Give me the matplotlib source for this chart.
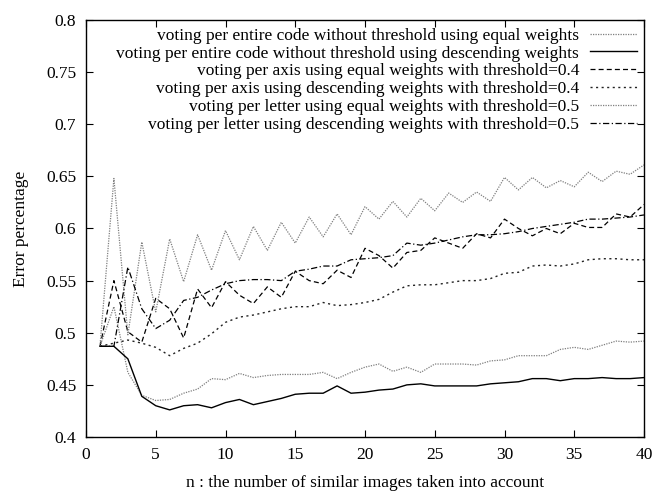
import matplotlib
matplotlib.use('Agg')
import matplotlib.pyplot as plt
from matplotlib.ticker import FuncFormatter, MultipleLocator
import numpy as np

plt.rcParams['font.family'] = ['Liberation Serif', 'DejaVu Serif']
plt.rcParams['font.size'] = 12.5

n = np.arange(1, 41)

# entire code, no threshold, equal weights
code_equal = [0.487, 0.525, 0.462, 0.440, 0.435, 0.436, 0.442, 0.446, 0.456, 0.455,
              0.461, 0.457, 0.459, 0.460, 0.460, 0.460, 0.462, 0.456, 0.462, 0.467,
              0.470, 0.463, 0.467, 0.462, 0.470, 0.470, 0.470, 0.469, 0.473, 0.474,
              0.478, 0.478, 0.478, 0.484, 0.486, 0.484, 0.488, 0.492, 0.491, 0.492]
# entire code, no threshold, descending weights
code_desc = [0.487, 0.487, 0.475, 0.439, 0.430, 0.426, 0.430, 0.431, 0.428, 0.433,
             0.436, 0.431, 0.434, 0.437, 0.441, 0.442, 0.442, 0.449, 0.442, 0.443,
             0.445, 0.446, 0.450, 0.451, 0.449, 0.449, 0.449, 0.449, 0.451, 0.452,
             0.453, 0.456, 0.456, 0.454, 0.456, 0.456, 0.457, 0.456, 0.456, 0.457]
# per axis, equal weights, threshold 0.4
axis_equal = [0.487, 0.550, 0.501, 0.491, 0.533, 0.523, 0.495, 0.542, 0.524, 0.549,
              0.536, 0.528, 0.544, 0.534, 0.559, 0.550, 0.547, 0.560, 0.553, 0.581,
              0.574, 0.562, 0.577, 0.579, 0.591, 0.586, 0.581, 0.595, 0.591, 0.609,
              0.600, 0.593, 0.600, 0.595, 0.605, 0.601, 0.601, 0.614, 0.611, 0.623]
# per axis, descending weights, threshold 0.4
axis_desc = [0.487, 0.490, 0.493, 0.490, 0.486, 0.478, 0.485, 0.490, 0.499, 0.510,
             0.515, 0.517, 0.520, 0.523, 0.525, 0.525, 0.529, 0.526, 0.527, 0.529,
             0.532, 0.539, 0.545, 0.546, 0.546, 0.548, 0.550, 0.550, 0.552, 0.557,
             0.558, 0.564, 0.565, 0.564, 0.566, 0.570, 0.571, 0.571, 0.570, 0.570]
# per letter, equal weights, threshold 0.5
letter_equal = [0.487, 0.648, 0.498, 0.587, 0.520, 0.590, 0.549, 0.594, 0.560, 0.598,
                0.570, 0.602, 0.579, 0.606, 0.586, 0.611, 0.592, 0.614, 0.594, 0.621,
                0.609, 0.626, 0.611, 0.629, 0.617, 0.634, 0.625, 0.635, 0.626, 0.649,
                0.637, 0.649, 0.639, 0.646, 0.640, 0.654, 0.645, 0.655, 0.652, 0.661]
# per letter, descending weights, threshold 0.5
letter_desc = [0.487, 0.487, 0.563, 0.523, 0.504, 0.512, 0.531, 0.534, 0.541, 0.547,
               0.550, 0.551, 0.551, 0.550, 0.559, 0.561, 0.564, 0.564, 0.570, 0.571,
               0.572, 0.574, 0.586, 0.584, 0.586, 0.589, 0.592, 0.594, 0.594, 0.595,
               0.597, 0.600, 0.602, 0.604, 0.606, 0.609, 0.609, 0.610, 0.611, 0.613]

labels = ["voting per entire code without threshold using equal weights",
          "voting per entire code without threshold using descending weights",
          "voting per axis using equal weights with threshold=0.4",
          "voting per axis using descending weights with threshold=0.4",
          "voting per letter using equal weights with threshold=0.5",
          "voting per letter using descending weights with threshold=0.5"]

fig = plt.figure(figsize=(6.58, 4.97), dpi=100)
ax = fig.add_axes([86 / 658, 1 - 437 / 497, 558 / 658, 417 / 497])

ax.plot(n, code_equal, color='#7f7f7f', lw=0.9, linestyle=(0, (1, 1)), label=labels[0])
ax.plot(n, code_desc, color='black', lw=1.0, linestyle='-', label=labels[1])
ax.plot(n, axis_equal, color='black', lw=0.9, linestyle=(0, (4, 2.5)), label=labels[2])
ax.plot(n, axis_desc, color='#222222', lw=1.0, linestyle=(0, (1.5, 2.5)), label=labels[3])
ax.plot(n, letter_equal, color='#7f7f7f', lw=0.9, linestyle=(0, (1, 1)), label=labels[4])
ax.plot(n, letter_desc, color='black', lw=0.9, linestyle=(0, (5, 2, 1, 2)), label=labels[5])

ax.set_xlim(0, 40)
ax.set_ylim(0.4, 0.8)
ax.xaxis.set_major_locator(MultipleLocator(5))
ax.yaxis.set_major_locator(MultipleLocator(0.05))
ax.yaxis.set_major_formatter(FuncFormatter(lambda v, p: '%g' % round(v, 2)))
ax.tick_params(direction='in', length=5, width=0.8, top=True, right=True,
               labelsize=12.5, pad=7)
for s in ax.spines.values():
    s.set_linewidth(1.0)

ax.set_xlabel("n : the number of similar images taken into account", fontsize=12.5, labelpad=9)
ax.set_ylabel("Error percentage", fontsize=12.5, labelpad=12)

leg = ax.legend(loc='upper right', bbox_to_anchor=(0.9875, 0.982), frameon=False,
                markerfirst=False, handlelength=2.7, handletextpad=0.63,
                labelspacing=0.1, borderpad=0, borderaxespad=0, fontsize=12.5)

fig.savefig('out.png', dpi=100)
